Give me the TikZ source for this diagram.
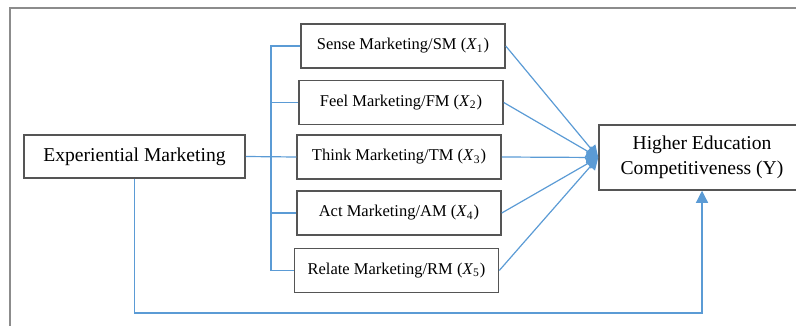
\documentclass[tikz,border=0pt]{standalone}
\usepackage{fontspec}
\setmainfont{Liberation Serif}
\usetikzlibrary{positioning}
\usetikzlibrary{arrows.meta}
\definecolor{linkblue}{RGB}{91,155,213}
\definecolor{boxgray}{RGB}{85,85,85}
\definecolor{framegray}{RGB}{140,140,140}
\tikzset{
    bigbox/.style = {rectangle, draw=boxgray, line width=0.75pt, align=center, fill=white, inner sep=0pt, font=\fontsize{9.8}{12.5}\selectfont, text=black},
    subbox/.style = {rectangle, draw=boxgray, line width=0.75pt, align=center, fill=white, inner sep=0pt, minimum width=102pt, minimum height=22pt, font=\fontsize{8.25}{10}\selectfont, text=black},
    edgel/.style = {-, line width=0.6pt, linkblue},
    edgea/.style = {-{Triangle[length=6pt,width=6pt]}, line width=0.6pt, linkblue},
    framel/.style = {-, line width=1pt, framegray}
}
\begin{document}
\begin{tikzpicture}[x=0.5pt,y=-0.5pt]
\useasboundingbox (0,0) rectangle (796,326);
%
\draw[framel] (796,8) -- (10,8) -- (10,326);
%
\node[bigbox, minimum width=110.5pt, minimum height=21.5pt] at (134.5,156.5) (em) {Experiential Marketing};
\node[subbox] at (403,46) (sm) {Sense Marketing/SM (\textit{X}\textsubscript{1})};
\node[subbox] at (401,102.5) (fm) {Feel Marketing/FM (\textit{X}\textsubscript{2})};
\node[subbox] at (399,157) (tm) {Think Marketing/TM (\textit{X}\textsubscript{3})};
\node[subbox] at (399,213) (am) {Act Marketing/AM (\textit{X}\textsubscript{4})};
\node[subbox] at (396.5,270.5) (rm) {Relate Marketing/RM (\textit{X}\textsubscript{5})};
\node[bigbox, minimum width=103pt, minimum height=32.5pt] at (702,157.5) (hec) {Higher Education\\Competitiveness (Y)};
%
\coordinate (bus) at (271,0);
\coordinate (low) at (0,313);
%
\draw[edgel] (em.east) -- (tm.west);
\draw[edgel] (sm.west) -- (sm.west -| bus) -- (rm.west -| bus) -- (rm.west);
\draw[edgel] (fm.west -| bus) -- (fm.west);
\draw[edgel] (am.west -| bus) -- (am.west);
%
\draw[edgea] (sm.east) -- (hec.west);
\draw[edgea] (fm.east) -- (hec.west);
\draw[edgea] (tm.east) -- (hec.west);
\draw[edgea] (am.east) -- (hec.west);
\draw[edgea] (rm.east) -- (hec.west);
\draw[edgea] (em.south) -- (em.south |- low) -| (hec.south);

\end{tikzpicture}
\end{document}
